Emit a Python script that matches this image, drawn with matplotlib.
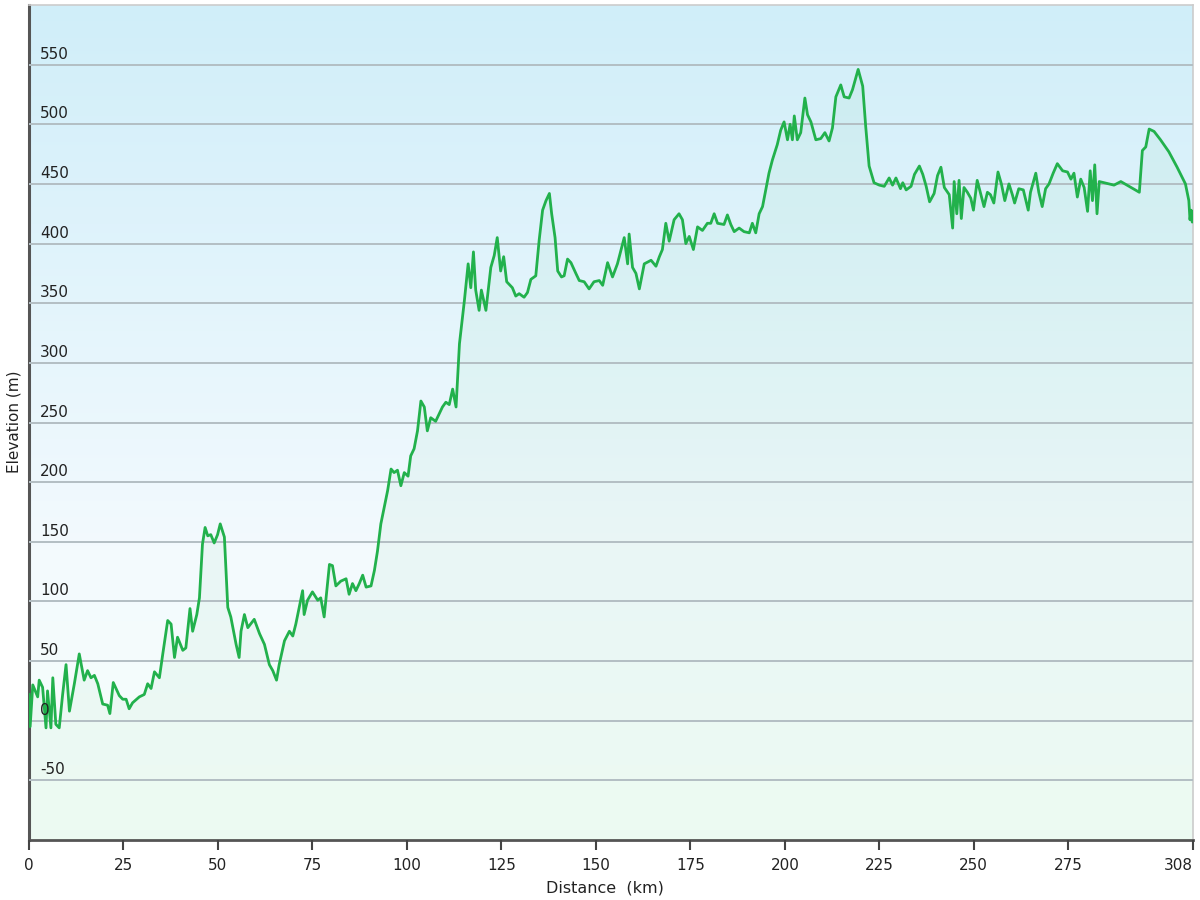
import numpy as np
import matplotlib
matplotlib.use("Agg")
import matplotlib.pyplot as plt
from matplotlib.colors import LinearSegmentedColormap
from matplotlib.transforms import blended_transform_factory

# --- Data ---
distance_km = [
    0.0, 0.3, 1.0, 2.3, 2.7, 3.6, 4.5, 4.9, 5.8, 6.3, 7.1, 8.0, 8.9, 9.8, 10.7,
    12.0, 13.3, 14.6, 15.5, 16.4, 17.3, 18.2, 19.5, 20.8, 21.4, 22.3, 23.9, 24.8,
    25.7, 26.5, 27.4, 29.2, 30.5, 31.4, 32.3, 33.2, 34.5, 35.4, 36.7, 37.6, 38.5,
    39.3, 40.7, 41.5, 42.6, 43.3, 44.4, 45.1, 45.9, 46.6, 47.3, 48.1, 49.0, 49.9,
    50.6, 51.7, 52.6, 53.4, 54.8, 55.6, 56.1, 57.0, 57.9, 59.6, 61.0, 62.3, 63.6,
    64.5, 65.5, 66.2, 67.6, 68.9, 69.8, 70.6, 72.4, 72.8, 73.7, 75.0, 76.4, 77.2,
    78.1, 79.5, 80.3,
    81.2, 82.5, 83.9, 84.7, 85.6, 86.5, 87.4, 88.3, 89.2, 90.5, 91.4, 92.2, 93.1,
    94.0, 94.9, 95.8, 96.6, 97.5, 98.4, 99.3, 100.3, 101.0, 101.9, 102.8, 103.7,
    104.6, 105.4, 106.3, 107.6, 108.5, 109.4, 110.3, 111.2, 112.1, 113.0,
    113.9, 115.2, 116.2, 116.9, 117.6, 118.2, 119.1, 119.7, 120.9, 122.2, 123.1,
    123.9, 124.8, 125.6, 126.4, 127.9, 128.8, 129.7, 131.0, 131.9, 132.8, 134.1,
    135.0, 135.9, 136.8, 137.7, 138.3, 139.2, 139.9, 140.9, 141.6, 142.5, 143.4,
    144.7, 145.6, 146.9, 148.2, 149.5, 150.9, 151.8, 153.1, 154.4, 155.7, 156.6,
    157.5, 158.4, 158.8, 159.7,
    160.6, 161.5, 162.8, 164.6, 165.9, 166.8, 167.6, 168.5, 169.4, 170.7, 172.0,
    172.9, 173.8, 174.7, 175.8, 176.9, 178.2, 179.5, 180.4, 181.3, 182.2, 183.9,
    184.8, 185.7, 186.6, 187.9, 189.2, 190.6, 191.4, 192.3, 193.2, 194.1, 195.0,
    195.8, 196.7, 198.0, 198.9, 199.8, 200.7, 201.4, 202.0, 202.5, 203.3, 204.2,
    205.3, 206.0, 206.9, 208.2, 209.5, 210.6, 211.7, 212.6, 213.5, 214.8, 215.7,
    217.0, 217.9, 218.8, 219.4, 220.6, 221.4, 222.3, 223.6, 225.0, 226.3, 227.6,
    228.5, 229.4, 230.6, 231.2, 232.1, 233.4, 234.3, 235.6, 236.5, 237.4, 238.3,
    239.5, 240.4, 241.3, 242.2, 243.5, 244.4, 244.8, 245.5, 246.1, 246.7, 247.4,
    248.3, 249.2, 249.9, 250.9, 251.8, 252.7, 253.6, 254.4, 255.3, 256.4, 257.3,
    258.2, 259.3, 260.2, 260.8, 261.9, 263.1, 264.4, 265.0, 266.4, 267.2, 268.1,
    269.0, 269.9, 271.0, 272.1, 273.5, 274.8, 275.7, 276.5, 277.4, 278.3, 279.2,
    280.1, 280.8, 281.4, 282.0, 282.6, 283.2, 287.1, 288.9, 293.8, 294.6, 295.5,
    296.4, 297.7, 299.4, 301.6, 303.8, 306.0, 306.9, 307.2, 307.5, 307.8, 308.0,
]

elevation_m = [
    22, -5, 30, 20, 34, 28, -6, 25, -6, 36, -3, -6, 22, 47, 8,
    31, 56, 34, 42, 36, 38, 31, 14, 13, 6, 32, 21, 18,
    18, 10, 15, 20, 22, 31, 27, 41, 36, 56, 84, 81, 53,
    70, 59, 61, 94, 75, 89, 103, 148, 162, 155, 156, 149, 156,
    165, 154, 95, 87, 64, 53, 75, 89, 78, 85, 73, 64, 47,
    42, 34, 47, 67, 75, 71, 81, 109, 89, 101, 108, 101, 103,
    87, 131, 130,
    113, 117, 119, 106, 115, 109, 115, 122, 112, 113, 126, 142, 165,
    179, 193, 211, 208, 210, 197, 208, 205, 222, 228, 243, 268,
    263, 243, 254, 251, 257, 263, 267, 265, 278, 263,
    316, 352, 383, 363, 393, 361, 344, 361, 344, 380, 390,
    405, 377, 389, 368, 363, 356, 358, 355, 359, 370, 373,
    403, 428, 436, 442, 425, 405, 377, 372, 373, 387, 384,
    375, 369, 368, 362, 368, 369, 365, 384, 372, 383, 394,
    405, 383, 408, 380,
    375, 362, 383, 386, 381, 389, 395, 417, 402, 420, 425,
    420, 400, 406, 395, 414, 411, 417, 417, 425, 417, 416,
    424, 416, 410, 413, 410, 409, 417, 409, 425, 431, 446,
    459, 470, 483, 495, 502, 487, 500, 487, 507, 487, 493,
    522, 508, 502, 487, 488, 493, 486, 497, 523, 533, 523,
    522, 529, 539, 546, 532, 498, 465, 451, 449, 448, 455,
    449, 455, 446, 451, 445, 448, 458, 465, 458, 448, 435,
    442, 457, 464, 447, 441, 413, 452, 425, 453, 421, 447,
    443, 438, 428, 453, 442, 431, 443, 441, 434, 460, 450,
    436, 450, 441, 434, 446, 445, 428, 443, 459, 443, 431,
    446, 450, 459, 467, 461, 460, 454, 459, 439, 454, 447,
    427, 461, 436, 466, 425, 452, 449, 452, 443, 478, 481,
    496, 494, 487, 477, 464, 450, 436, 420, 428, 418, 427,
]

x_ticks = [0, 25, 50, 75, 100, 125, 150, 175, 200, 225, 250, 275, 308]
y_ticks = [-50, 0, 50, 100, 150, 200, 250, 300, 350, 400, 450, 500, 550]

# --- Plotting ---
fig = plt.figure(figsize=(12, 9), dpi=100)
ax = fig.add_axes([29 / 1200, 60 / 900, 1164 / 1200, 835 / 900])

# background gradient: light blue on top fading to pale white/green
bg_cmap = LinearSegmentedColormap.from_list(
    "bg", [(0.0, "#f7fffa"), (0.35, "#f3fafe"), (1.0, "#d0eef9")])
grad = np.linspace(0, 1, 256).reshape(-1, 1)
ax.imshow(grad, cmap=bg_cmap, origin="lower", aspect="auto",
          extent=[0, 1, 0, 1], transform=ax.transAxes, zorder=0)

ax.fill_between(distance_km, elevation_m, -100, color="#22b14c", alpha=0.045,
                linewidth=0, zorder=1)
ax.plot(distance_km, elevation_m, color="#22b14c", linewidth=2.0, zorder=3)

ax.set_xlim(0, 308)
ax.set_ylim(-100, 600)

# --- Formatting ---
ax.set_yticks(y_ticks)
ax.tick_params(axis="y", length=0, labelleft=False)
ax.yaxis.grid(True, color="#b3bec3", linewidth=1.4, zorder=2)
ax.set_axisbelow(False)

# y labels sit inside the plot, just above each gridline
trans = blended_transform_factory(ax.transAxes, ax.transData)
for v in y_ticks:
    ax.text(0.0095, v + 2.5, str(v), transform=trans, ha="left", va="bottom",
            fontsize=11, color="#222222", zorder=4)

ax.set_xticks(x_ticks)
ax.set_xticklabels([str(t) for t in x_ticks], fontsize=11, color="#222222")
ax.get_xticklabels()[-1].set_horizontalalignment("right")
ax.tick_params(axis="x", direction="out", length=7, width=1.5,
               color="#444444", pad=6)

ax.spines["left"].set_color("#555555")
ax.spines["left"].set_linewidth(2.2)
ax.spines["bottom"].set_color("#555555")
ax.spines["bottom"].set_linewidth(2.0)
ax.spines["top"].set_color("#cccccc")
ax.spines["top"].set_linewidth(1.2)
ax.spines["right"].set_color("#cccccc")
ax.spines["right"].set_linewidth(1.2)

fig.text(14 / 1200, 1 - 422 / 900, "Elevation (m)", rotation=90, ha="center",
         va="center", fontsize=11, color="#222222")
fig.text(605 / 1200, 1 - 888 / 900, "Distance  (km)", ha="center",
         va="center", fontsize=11.5, color="#222222")

fig.savefig("out.png", dpi=100)
